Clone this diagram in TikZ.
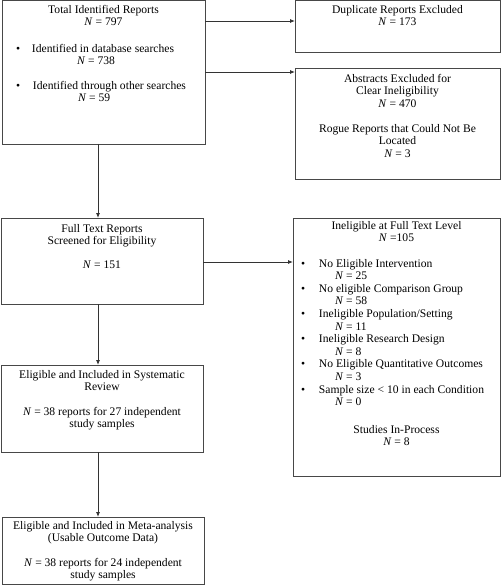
\documentclass[tikz,border=0pt]{standalone}
\usepackage{fontspec}
\setmainfont{Liberation Serif}
\usetikzlibrary{arrows.meta,calc}
\newcommand{\lineC}[1]{\hbox to\hsize{\hss\strut #1\hss}}
\newcommand{\lineL}[2]{\hbox to\hsize{\hskip #1\relax\strut #2\hss}}
\newcommand{\lineB}[3]{\hbox to\hsize{\hskip #1\relax\rlap{\strut\textbullet}\hskip\dimexpr #2-#1\relax #3\hss}}
\newcommand{\NN}{\textit{N}}
\begin{document}
\begin{tikzpicture}[x=1pt,y=-1pt,
  box/.style={draw=black!72, line width=0.8pt, rectangle, inner sep=0pt, outer sep=0pt, anchor=north west,
    text=black, font=\fontsize{11.6pt}{12.6pt}\selectfont},
  arr/.style={draw=black!80, line width=0.8pt, -{Latex[length=5pt,width=4pt]}}]
\useasboundingbox (0,0) rectangle (501,585);

\node[box] (b1) at (2,0.5) {\parbox[c][143.5pt][t]{203pt}{%
  \vspace*{3.7pt}
  \lineC{Total Identified Reports}
  \lineC{\NN{} = 797}
  \vspace{13.8pt}
  \lineB{14pt}{30pt}{Identified in database searches}
  \lineL{75pt}{\NN{} = 738}
  \vspace{11.8pt}
  \lineB{14pt}{31pt}{Identified through other searches}
  \lineL{76pt}{\NN{} = 59}
}};

\node[box] (dup) at (295,0.5) {\parbox[c][51.5pt][t]{205pt}{%
  \vspace*{3.7pt}
  \lineC{Duplicate Reports Excluded}
  \lineC{\NN{} = 173}
}};

\node[box] (abs) at (295,68) {\parbox[c][111pt][t]{205pt}{%
  \vspace*{5.2pt}
  \lineC{Abstracts Excluded for}
  \lineC{Clear Ineligibility}
  \lineC{\NN{} = 470}
  \vspace{12.2pt}
  \lineC{Rogue Reports that Could Not Be}
  \lineC{Located}
  \lineC{\NN{} = 3}
}};

\node[box] (b2) at (1,218) {\parbox[c][86pt][t]{202pt}{%
  \vspace*{5.2pt}
  \lineC{Full Text Reports}
  \lineC{Screened for Eligibility}
  \vspace{10.8pt}
  \lineC{\NN{} = 151}
}};

\node[box] (inel) at (293,218) {\parbox[c][258pt][t]{207pt}{%
  \vspace*{2.2pt}
  \lineC{Ineligible at Full Text Level}
  \lineC{\NN{} =105}
  \vspace{12.8pt}
  \lineB{8pt}{26pt}{No Eligible Intervention}
  \lineL{42pt}{\NN{} = 25}
  \lineB{8pt}{26pt}{No eligible Comparison Group}
  \lineL{42pt}{\NN{} = 58}
  \lineB{8pt}{26pt}{Ineligible Population/Setting}
  \lineL{42pt}{\NN{} = 11}
  \lineB{8pt}{26pt}{Ineligible Research Design}
  \lineL{42pt}{\NN{} = 8}
  \lineB{8pt}{26pt}{No Eligible Quantitative Outcomes}
  \lineL{42pt}{\NN{} = 3}
  \lineB{8pt}{26pt}{Sample size < 10 in each Condition}
  \lineL{42pt}{\NN{} = 0}
  \vspace{14.8pt}
  \lineC{Studies In-Process}
  \lineC{\NN{} = 8}
}};

\node[box] (b3) at (1,365) {\parbox[c][87pt][t]{202pt}{%
  \vspace*{4.2pt}
  \lineC{Eligible and Included in Systematic}
  \lineC{Review}
  \vspace{11.8pt}
  \lineC{\NN{} = 38 reports for 27 independent}
  \lineC{study samples}
}};

\node[box] (b4) at (2,517) {\parbox[c][67pt][t]{202pt}{%
  \vspace*{3.2pt}
  \lineC{Eligible and Included in Meta-analysis}
  \lineC{(Usable Outcome Data)}
  \vspace{11.8pt}
  \lineC{\NN{} = 38 reports for 24 independent}
  \lineC{study samples}
}};

\draw[arr] ($(b1.north east)+(0,20.5)$) -- ($(dup.north west)+(0,20.5)$);
\draw[arr] ($(b1.north east)+(0,71.5)$) -- ($(abs.north west)+(0,4)$);
\draw[arr] ($(b1.south west)+(96,0)$) -- ($(b2.north west)+(97,0)$);
\draw[arr] ($(b2.north east)+(0,44)$) -- ($(inel.north west)+(0,44)$);
\draw[arr] ($(b2.south west)+(97,0)$) -- ($(b3.north west)+(97,0)$);
\draw[arr] ($(b3.south west)+(97,0)$) -- ($(b4.north west)+(96,0)$);
\end{tikzpicture}
\end{document}
